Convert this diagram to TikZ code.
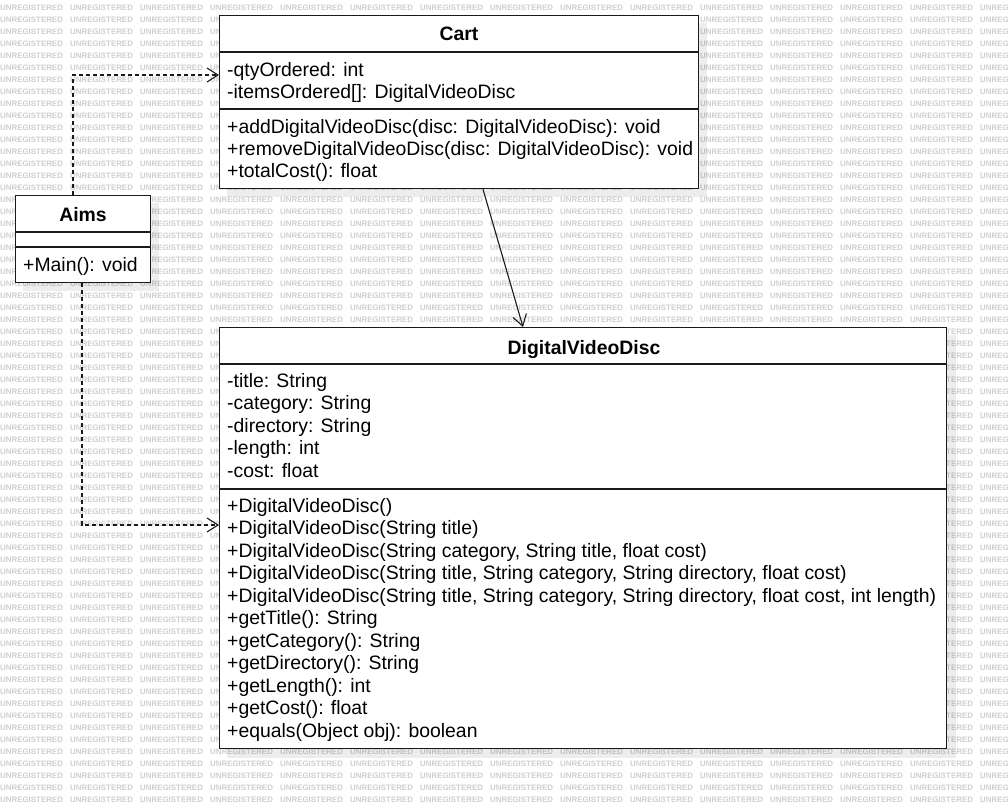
\documentclass[tikz,border=0pt]{standalone}
\usepackage{fontspec}
\setmainfont{Liberation Sans}
\usetikzlibrary{arrows.meta}
\definecolor{wm}{HTML}{CFCFCF}
\definecolor{ln}{HTML}{1A1A1A}
\begin{document}
\begin{tikzpicture}[x=1pt,y=-1pt,
  box/.style={draw=ln, line width=1.3pt, fill=white, inner sep=0, anchor=north west},
  shadow/.style={fill=black, opacity=0.07, draw=none},
  sep/.style={draw=ln, line width=1.3pt},
  txt/.style={anchor=base west, inner sep=0, font=\fontsize{19.4}{23}\selectfont},
  ttl/.style={anchor=base, inner sep=0, font=\fontsize{19.4}{23}\selectfont\bfseries},
  wmk/.style={anchor=west, inner sep=0, text=wm, font=\fontsize{7.9}{8}\selectfont\bfseries},
  dep/.style={draw=ln, line width=1.3pt, dash pattern=on 4pt off 3pt, -{Straight Barb[length=11pt,width=14pt,line width=1.1pt]}},
  assoc/.style={draw=ln, line width=1.1pt, -{Straight Barb[length=11pt,width=14pt,line width=1.1pt]}}]
\useasboundingbox (0,0) rectangle (1008,808);
\fill[white] (0,0) rectangle (1008,808);
% watermark
\begin{scope}
\clip (0,0) rectangle (1008,808);
\foreach \j in {0,...,66}{
  \foreach \i in {0,...,14}{
    \node[wmk] (w-\i-\j) at (70*\i, 8+12*\j) {UNREGISTERED};
  }
}
\end{scope}
% shadows
\fill[shadow] (227,23) rectangle (707,197);
\fill[shadow] (23,203) rectangle (159,291);
\fill[shadow] (227,335) rectangle (956,758);
% Cart
\node[box, minimum width=479pt, minimum height=173pt] (cart) at (219,15) {};
\draw[sep] (219,52) -- (698,52);
\draw[sep] (219,109) -- (698,109);
\node[ttl] (cart-t) at (459,41) {Cart};
\node[txt] (cart-a1) at (227,76) {-qtyOrdered: int};
\node[txt] (cart-a2) at (227,98) {-itemsOrdered[]: DigitalVideoDisc};
\node[txt] (cart-m1) at (227,133) {+addDigitalVideoDisc(disc: DigitalVideoDisc): void};
\node[txt] (cart-m2) at (227,155) {+removeDigitalVideoDisc(disc: DigitalVideoDisc): void};
\node[txt] (cart-m3) at (227,177) {+totalCost(): float};
% Aims
\node[box, minimum width=135pt, minimum height=87pt] (aims) at (15,195) {};
\draw[sep] (15,232) -- (150,232);
\draw[sep] (15,247) -- (150,247);
\node[ttl] (aims-t) at (83,221) {Aims};
\node[txt] (aims-m1) at (23,271) {+Main(): void};
% DigitalVideoDisc
\node[box, minimum width=727pt, minimum height=421pt] (dvd) at (219,327) {};
\draw[sep] (219,364) -- (946,364);
\draw[sep] (219,489) -- (946,489);
\node[ttl] (dvd-t) at (584,354) {DigitalVideoDisc};
\foreach \t [count=\k from 0] in {-title: String,-category: String,-directory: String,-length: int,-cost: float}{
  \node[txt] (dvd-a\k) at (227,387+22.5*\k) {\t};
}
\foreach \t [count=\k from 0] in {+DigitalVideoDisc(),
  +DigitalVideoDisc(String title),
  {+DigitalVideoDisc(String category, String title, float cost)},
  {+DigitalVideoDisc(String title, String category, String directory, float cost)},
  {+DigitalVideoDisc(String title, String category, String directory, float cost, int length)},
  +getTitle(): String,
  +getCategory(): String,
  +getDirectory(): String,
  +getLength(): int,
  +getCost(): float,
  +equals(Object obj): boolean}{
  \node[txt] (dvd-m\k) at (227,512+22.5*\k) {\t};
}
% connectors
\draw[dep] ([xshift=58pt]aims.north west) |- ([yshift=-60pt]cart.north west);
\draw[dep] ([xshift=67pt]aims.south west) |- ([yshift=-198pt]dvd.north west);
\draw[assoc] ([xshift=264pt]cart.south west) -- ([xshift=304pt]dvd.north west);
\end{tikzpicture}
\end{document}
